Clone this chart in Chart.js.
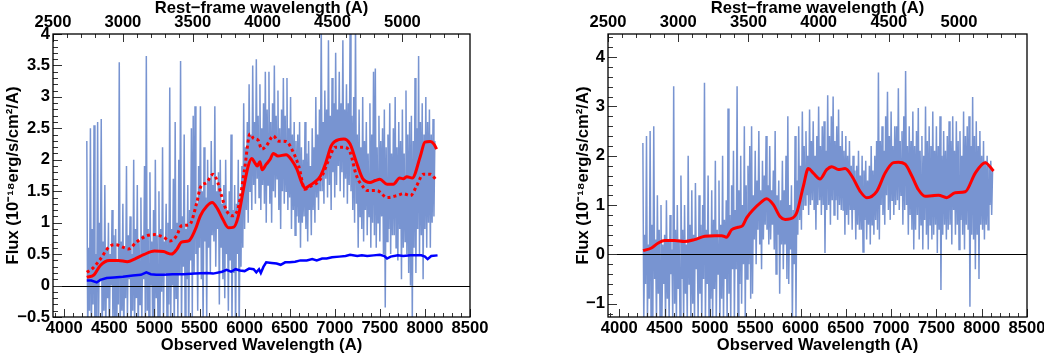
<!DOCTYPE html>
<html><head><meta charset="utf-8">
<script src="https://cdn.jsdelivr.net/npm/chart.js@4"></script>
<style>
html,body{margin:0;padding:0;background:#fff;}
#wrap{position:relative;width:1044px;height:354px;overflow:hidden;}
canvas{position:absolute;top:0;}
#cL{left:0;} #cR{left:522px;}
</style></head><body>
<div id="wrap"><canvas id="cL" width="522" height="354"></canvas><canvas id="cR" width="522" height="354"></canvas></div>
<script>
// ---------- axis data ----------
const onePlusZ = 1.55;
const obsMin = 3875, obsMax = 8500;
const obsTicks = [4000, 4500, 5000, 5500, 6000, 6500, 7000, 7500, 8000, 8500];
const restTicks = [2500, 3000, 3500, 4000, 4500, 5000];
const yTicksLeft = [-0.5, 0, 0.5, 1, 1.5, 2, 2.5, 3, 3.5, 4];
const yTicksRight = [-1, 0, 1, 2, 3, 4];

// ---------- left panel ----------
const specStep = 10;
const specLeftStart = 4250;
const specLeft = [
 2.30,-0.8, 0.6,-0.4, 2.50,-0.9, 0.9,-0.3, 2.55,-1.0, 0.5,-0.5, 2.60,-0.7, 1.0,0.1, 2.65,-0.9, 0.7,-0.4,
 1.60,-0.8, 0.6,-0.2, 1.0,-0.9, 0.5,0.0, 1.20,-0.7, 0.8,-0.5, 0.9,-1.0, 0.4,-0.3, 3.55,-0.8, 0.7,-0.4,
 1.30,-0.9, 0.6,-0.2, 1.9,-0.6, 0.8,0.1, 1.10,-0.9, 0.5,-0.4, 2.00,-0.7, 0.9,-0.2, 1.60,-1.0, 0.7,-0.3,
 1.40,-0.6, 0.8,0.1, 1.9,-0.9, 3.65,-0.4, 0.9,-0.8, 1.8,0.0, 0.7,-0.6, 1.2,-0.9, 2.0,-0.2, 0.8,-0.7,
 1.50,-0.9, 0.9,-0.1, 2.2,-0.6, 0.7,0.2, 1.3,-0.8, 1.0,-0.3, 3.15,-0.7, 0.9,0.0, 1.7,-0.9, 2.6,-0.2,
 1.0,-0.5, 2.0,0.2, 3.57,-0.8, 1.1,0.3, 2.4,-0.6, 0.9,0.1, 1.6,-0.9, 1.2,0.4, 2.5,-0.5, 2.7,0.2,
 2.85,0.5, 1.3,-0.4, 1.9,0.6, 2.85,0.1, 1.5,-0.7, 2.2,0.7, 1.4,-0.5, 2.0,0.6, 1.7,0.2, 2.3,0.8,
 1.6,0.7, 2.85,0.3, 1.5,0.9, 1.8,-0.3, 2.0,0.6, 1.3,0.1, 1.6,-0.2, 2.0,0.5, 1.2,-0.4, 1.5,0.4,
 2.4,-0.7, 1.2,0.2, 1.6,-0.8, 1.3,0.5, 2.0,-0.9, 1.4,0.3, 1.9,0.6, 2.9,0.9, 2.2,1.2, 2.6,1.0,
 3.2,1.5, 2.4,1.2, 3.5,1.6, 2.6,1.3, 3.6,1.7, 2.7,1.4, 3.2,1.2, 2.5,1.6, 2.9,1.3, 3.4,1.0,
 2.8,1.6, 3.4,1.3, 2.6,1.0, 2.9,1.5, 3.5,1.4, 2.7,1.7, 3.1,1.2, 2.5,0.9, 2.8,1.5, 3.3,1.3,
 2.7,1.5, 3.3,1.2, 2.5,1.4, 3.0,0.9, 2.4,1.2, 2.6,0.8, 2.3,1.1, 2.4,1.0, 2.6,0.6, 2.2,1.0,
 2.0,1.1, 2.6,0.9, 2.1,0.7, 2.3,1.2, 1.9,0.8, 2.5,1.2, 2.2,1.0, 3.0,1.4, 2.4,1.2, 2.8,1.5,
 4.2,1.5, 2.6,1.3, 3.1,1.7, 2.8,1.4, 3.9,1.6, 2.7,1.2, 3.3,1.8, 2.9,1.4, 3.7,1.6, 2.8,1.9,
 3.4,1.5, 2.9,1.8, 3.9,1.4, 2.8,1.7, 3.2,1.3, 2.9,1.6, 4.1,1.5, 2.7,1.2, 3.0,1.0, 4.2,1.3,
 2.4,0.6, 2.8,1.1, 2.2,0.9, 3.0,0.7, 2.3,1.2, 2.6,0.8, 2.1,1.1, 2.9,0.6, 2.4,1.0, 3.4,0.8,
 3.45,0.6, 2.2,1.0, 2.7,0.7, 2.3,1.1, 2.5,0.5, 2.8,-0.35, 2.2,0.7, 2.4,0.9, 2.9,0.5, 2.1,0.8,
 2.5,0.8, 3.0,0.6, 2.2,0.4, 2.6,0.9, 2.3,0.1, 2.8,0.6, 2.1,0.7, 3.1,0.5, 2.4,0.2, 2.6,0.0,
 2.7,-0.6, 2.3,0.6, 3.3,0.2, 2.5,0.9, 3.65,0.5, 2.6,0.8, 2.9,0.1, 2.4,0.9, 3.0,0.6, 2.6,1.0,
 2.8,0.6, 2.4,1.0, 2.65,1.1, 2.3
];
const redLeftX = [4250,4330,4400,4500,4600,4700,4780,4880,5000,5100,5190,5250,5300,5380,5450,5510,5580,5640,5700,5760,5820,5880,5930,5990,6040,6080,6110,6140,6170,6195,6240,6280,6320,6370,6460,6520,6580,6630,6670,6720,6780,6840,6900,6960,7000,7100,7170,7240,7310,7390,7450,7500,7580,7650,7720,7760,7800,7860,7950,8000,8060,8100,8130];
const redLeftY = [0.13,0.17,0.32,0.40,0.40,0.38,0.42,0.49,0.55,0.54,0.50,0.58,0.69,0.71,0.88,1.11,1.26,1.32,1.22,1.05,0.92,0.93,1.10,1.55,1.90,2.02,1.96,1.90,1.97,1.84,1.93,2.00,2.10,2.06,2.08,2.00,1.85,1.65,1.55,1.59,1.65,1.74,1.95,2.22,2.29,2.33,2.25,1.96,1.70,1.64,1.67,1.69,1.61,1.61,1.71,1.70,1.73,1.71,2.06,2.28,2.29,2.25,2.17];
const dotLeftX = [4250,4320,4400,4500,4570,4650,4710,4800,4910,5000,5100,5170,5245,5300,5390,5470,5510,5580,5650,5700,5740,5800,5860,5930,6000,6060,6100,6150,6190,6240,6320,6370,6460,6540,6600,6670,6720,6840,6950,7000,7100,7170,7240,7320,7360,7470,7580,7690,7760,7840,7910,7980,8060,8130];
const dotLeftY = [0.21,0.28,0.42,0.62,0.65,0.61,0.58,0.69,0.79,0.81,0.77,0.71,0.79,0.95,0.97,1.32,1.56,1.64,1.77,1.65,1.45,1.19,1.11,1.24,1.85,2.41,2.34,2.31,2.17,2.22,2.38,2.30,2.29,2.12,1.90,1.53,1.57,1.69,2.06,2.20,2.20,2.12,1.75,1.56,1.51,1.51,1.40,1.43,1.46,1.43,1.59,1.77,1.77,1.67];
const blueLeftX = [4250,4300,4360,4400,4470,4550,4650,4760,4850,4910,4960,5020,5100,5200,5320,5450,5580,5650,5750,5800,5850,5900,5950,6000,6050,6100,6130,6160,6180,6210,6240,6300,6355,6400,6450,6500,6560,6620,6690,6750,6800,6860,6910,6970,7050,7120,7170,7250,7300,7360,7430,7500,7550,7580,7620,7700,7760,7840,7900,7960,8000,8030,8070,8140];
const blueLeftY = [0.08,0.08,0.05,0.09,0.12,0.13,0.14,0.16,0.17,0.21,0.18,0.17,0.17,0.18,0.18,0.19,0.20,0.19,0.22,0.25,0.22,0.26,0.24,0.23,0.27,0.26,0.21,0.26,0.20,0.30,0.37,0.36,0.35,0.33,0.37,0.37,0.38,0.40,0.40,0.42,0.40,0.43,0.43,0.45,0.46,0.47,0.49,0.47,0.48,0.47,0.48,0.49,0.47,0.43,0.46,0.48,0.47,0.48,0.48,0.48,0.46,0.42,0.47,0.48];

// ---------- right panel ----------
const specRightStart = 4260;
const specRight = [
 2.26,-1.4, 0.4,-0.6, 2.40,-1.4, 0.2,-0.9, 2.5,-1.3, 0.6,-1.4, 2.6,-0.5, 0.3,-1.4, 1.2,-0.8, 0.5,-1.4,
 1.0,-1.4, 0.2,-0.6, 0.4,-1.4, 1.1,-0.9, 0.3,-1.4, 0.8,-0.4, 0.1,-1.4, 3.41,-1.0, 0.5,-1.4, 1.0,-0.7,
 0.3,-1.4, 1.6,-0.5, 0.5,-1.4, 1.0,-0.8, 0.2,-1.4, 2.0,-0.6, 0.6,-1.4, 1.3,-1.0, 0.4,-1.4, 1.45,-0.3,
 0.3,-1.4, 1.2,-0.8, 0.6,-1.4, 1.0,-0.5, 3.48,-1.4, 0.5,-0.6, 1.6,-1.4, 0.4,-0.9, 1.3,-1.4, 0.7,-0.7,
 1.9,-1.4, 0.5,-0.4, 1.5,-1.4, 0.6,-0.9, 2.0,-1.4, 0.7,-0.5, 1.1,-1.4, 2.96,-0.8, 0.8,-1.4, 1.4,-0.3,
 2.1,-1.4, 0.9,-0.3, 3.41,-1.4, 1.3,-0.6, 2.0,-1.0, 1.0,-0.2, 2.6,-1.4, 1.4,-0.5, 1.8,-0.2, 2.2,-0.9,
 2.6,-0.8, 1.2,0.3, 2.1,-0.2, 1.5,0.5, 2.5,0.2, 1.3,-0.3, 1.9,0.3, 1.6,0.6, 2.4,0.5, 1.4,0.2,
 2.2,0.3, 1.3,0.6, 1.7,0.1, 2.5,-0.4, 1.2,0.4, 1.5,-0.8, 1.1,0.2, 1.9,-0.3, 1.3,0.2, 2.0,-0.5,
 2.8,-0.6, 1.0,0.1, 1.4,-1.4, 0.9,-0.2, 2.4,-1.3, 1.5,0.4, 2.6,0.7, 1.8,0.5, 2.9,0.9, 2.2,1.0,
 2.5,1.2, 2.0,0.8, 2.94,1.0, 2.3,1.1, 2.7,0.9, 2.0,0.5, 2.4,1.0, 3.0,1.1, 2.2,0.8, 2.6,1.0,
 2.7,0.03, 2.1,0.9, 3.23,1.0, 2.4,0.6, 2.8,1.1, 3.2,0.8, 2.3,1.1, 2.6,0.7, 2.94,1.0, 2.2,0.9,
 2.5,0.9, 2.1,0.4, 2.4,0.8, 2.0,0.6, 2.3,0.9, 1.8,0.5, 2.0,0.9, 1.7,0.3, 1.8,0.6, 2.1,0.5,
 1.6,0.5, 2.0,0.05, 1.7,0.7, 1.9,0.3, 1.5,0.6, 1.8,0.2, 2.2,0.6, 1.7,0.4, 2.0,0.7, 2.3,0.5,
 3.69,0.3, 2.3,1.0, 2.6,0.8, 2.1,0.6, 2.8,1.2, 3.3,0.9, 2.4,0.7, 2.9,1.1, 2.2,0.8, 2.6,1.0,
 2.6,1.1, 3.37,0.9, 2.3,1.2, 2.5,0.6, 2.8,0.9, 3.72,1.0, 2.2,0.4, 2.6,0.8, 2.3,0.5, 2.9,0.1,
 2.2,0.5, 2.5,0.8, 2.97,0.3, 2.1,0.6, 2.4,0.1, 2.0,0.7, 3.0,0.4, 2.3,0.1, 2.6,0.6, 2.2,0.3,
 2.9,0.4, 2.1,0.6, 2.6,0.03, 2.2,0.5, 2.8,-0.72, 2.0,0.4, 2.5,0.6, 2.1,0.3, 2.4,0.5, 2.7,0.6,
 2.3,0.2, 2.8,0.9, 2.1,0.4, 2.7,0.6, 2.3,0.1, 2.5,0.7, 2.0,0.4, 2.9,0.1, 2.4,0.6, 2.6,0.5,
 2.8,-1.06, 2.2,0.4, 3.19,0.3, 2.4,-0.3, 2.7,0.4, 2.2,-0.5, 2.5,0.6, 2.0,0.5, 2.3,0.3, 1.9,0.6,
 2.0,0.5, 1.8,1.0, 1.9,0.8, 1.7
];
const redRightX = [4262,4355,4430,4500,4610,4720,4830,4944,5055,5130,5183,5239,5312,5360,5405,5480,5560,5626,5700,5773,5830,5884,5957,6031,6086,6141,6215,6289,6345,6418,6492,6566,6658,6732,6842,6934,7026,7081,7155,7229,7302,7376,7450,7523,7615,7707,7818,7929,8039,8131];
const redRightY = [0.075,0.13,0.23,0.28,0.28,0.26,0.30,0.37,0.38,0.38,0.35,0.50,0.55,0.58,0.74,0.91,1.05,1.13,1.01,0.77,0.71,0.72,0.84,1.38,1.74,1.65,1.53,1.72,1.78,1.72,1.74,1.59,1.28,1.15,1.28,1.65,1.86,1.87,1.83,1.59,1.31,1.18,1.19,1.20,1.15,1.25,1.27,1.65,1.86,1.69];

// ---------- helpers ----------
const FONT = "'Liberation Sans', Arial, Helvetica, sans-serif";
const SPEC = 'rgb(120,148,209)';
const pts = (xs, ys) => xs.map((x, i) => ({x, y: ys[i]}));
const specPts = (start, vals) => vals.map((v, i) => ({x: start + i * specStep, y: v}));
const fmt = v => (v < 0 ? '\u2212' + Math.abs(v) : String(v));
const txt = {size: 16.6, weight: 'bold', lineHeight: 1};

const rootFrame = {
  id: 'rootFrame',
  afterDatasetsDraw(chart, args, o) {
    const {ctx, chartArea: a, scales} = chart;
    ctx.save();
    ctx.lineWidth = 1;
    ctx.strokeStyle = '#000';
    const y0 = Math.round(scales.y.getPixelForValue(0)) + 0.5;
    ctx.beginPath(); ctx.moveTo(a.left, y0); ctx.lineTo(a.right, y0); ctx.stroke();
    ctx.strokeStyle = '#333';
    ctx.beginPath();
    const seg = (x1, y1, x2, y2) => { ctx.moveTo(x1, y1); ctx.lineTo(x2, y2); };
    for (let v = 3900; v <= obsMax; v += 100) {
      const x = Math.round(scales.x.getPixelForValue(v)) + 0.5;
      seg(x, a.bottom, x, a.bottom - (v % 500 === 0 ? 8 : 4));
    }
    for (let v = 2500; v <= obsMax / onePlusZ; v += 100) {
      const x = Math.round(scales.xTop.getPixelForValue(v)) + 0.5;
      seg(x, a.top, x, a.top + (v % 500 === 0 ? 8 : 4));
    }
    const k0 = Math.ceil(scales.y.min / o.minor - 1e-6), k1 = Math.floor(scales.y.max / o.minor + 1e-6);
    for (let k = k0; k <= k1; k++) {
      const v = k * o.minor;
      const r = v / o.major;
      const major = Math.abs(r - Math.round(r)) < 1e-6;
      const y = Math.round(scales.y.getPixelForValue(v)) + 0.5;
      seg(a.left, y, a.left + (major ? 9 : 5), y);
    }
    ctx.stroke();
    ctx.strokeStyle = '#000';
    ctx.lineWidth = 1.3;
    ctx.strokeRect(a.left, a.top, a.right - a.left, a.bottom - a.top);
    ctx.restore();
  }
};

function makeChart(id, p) {
  const datasets = p.lines.concat([
    {data: p.spec, borderColor: SPEC, borderWidth: 1.5, pointRadius: 0, tension: 0, order: 5, clip: 0, fill: false}
  ]);
  return new Chart(document.getElementById(id), {
    type: 'line',
    data: {datasets},
    options: {
      responsive: false, animation: false, events: [],
      devicePixelRatio: 1,
      layout: {padding: {left: 0, right: p.padRight, top: 0, bottom: 0}},
      plugins: {legend: {display: false}, tooltip: {enabled: false},
                rootFrame: {minor: p.minor, major: p.major}},
      scales: {
        x: {
          type: 'linear', position: 'bottom', min: obsMin, max: obsMax,
          afterBuildTicks: s => { s.ticks = obsTicks.map(v => ({value: v})); },
          afterFit: s => { s.height = 37; s.paddingLeft = 0; s.paddingRight = 0; },
          grid: {display: false, drawTicks: false}, border: {display: false},
          ticks: {autoSkip: false, maxRotation: 0, minRotation: 0, padding: 3, color: '#000', font: txt, callback: v => String(v)},
          title: {display: true, text: 'Observed Wavelength (A)', color: '#000', font: txt, padding: {top: 0, bottom: 0}}
        },
        xTop: {
          type: 'linear', position: 'top', min: obsMin / onePlusZ, max: obsMax / onePlusZ,
          afterBuildTicks: s => { s.ticks = restTicks.map(v => ({value: v})); },
          afterFit: s => { s.height = 34; s.paddingLeft = 0; s.paddingRight = 0; },
          grid: {display: false, drawTicks: false}, border: {display: false},
          ticks: {autoSkip: false, maxRotation: 0, minRotation: 0, padding: 3, color: '#000', font: txt, callback: v => String(v)},
          title: {display: true, text: 'Rest\u2212frame wavelength (A)', color: '#000', font: txt, padding: {top: 0, bottom: 0}}
        },
        y: {
          type: 'linear', position: 'left', min: p.yMin, max: p.yMax,
          afterBuildTicks: s => { s.ticks = p.yTicks.map(v => ({value: v})); },
          afterFit: s => { s.width = p.axisWidth; s.paddingTop = 0; s.paddingBottom = 0; },
          grid: {display: false, drawTicks: false}, border: {display: false},
          ticks: {autoSkip: false, padding: 3, color: '#000', font: txt, callback: fmt},
          title: {display: true, text: 'Flux (10\u207B\u00B9\u2078erg/s/cm\u00B2/A)', color: '#000', font: txt, padding: {top: p.titlePad, bottom: 0}}
        }
      }
    },
    plugins: [rootFrame]
  });
}

Chart.defaults.font.family = FONT;

makeChart('cL', {
  yMin: -0.5, yMax: 4, yTicks: yTicksLeft, minor: 0.1, major: 0.5,
  axisWidth: 53, padRight: 52, titlePad: 5,
  spec: specPts(specLeftStart, specLeft),
  lines: [
    {data: pts(redLeftX, redLeftY), borderColor: '#ff0000', borderWidth: 3, pointRadius: 0, cubicInterpolationMode: 'monotone', order: 0, clip: 0, fill: false},
    {data: pts(dotLeftX, dotLeftY), borderColor: '#ff0000', borderWidth: 3, borderDash: [3, 3], pointRadius: 0, cubicInterpolationMode: 'monotone', order: 1, clip: 0, fill: false},
    {data: pts(blueLeftX, blueLeftY), borderColor: '#0000ff', borderWidth: 2.5, pointRadius: 0, tension: 0, order: 2, clip: 0, fill: false}
  ]
});

makeChart('cR', {
  yMin: -1.27, yMax: 4.47, yTicks: yTicksRight, minor: 0.2, major: 1,
  axisWidth: 86, padRight: 17, titlePad: 53,
  spec: specPts(specRightStart, specRight),
  lines: [
    {data: pts(redRightX, redRightY), borderColor: '#ff0000', borderWidth: 3, pointRadius: 0, cubicInterpolationMode: 'monotone', order: 0, clip: 0, fill: false}
  ]
});
</script>
</body></html>
